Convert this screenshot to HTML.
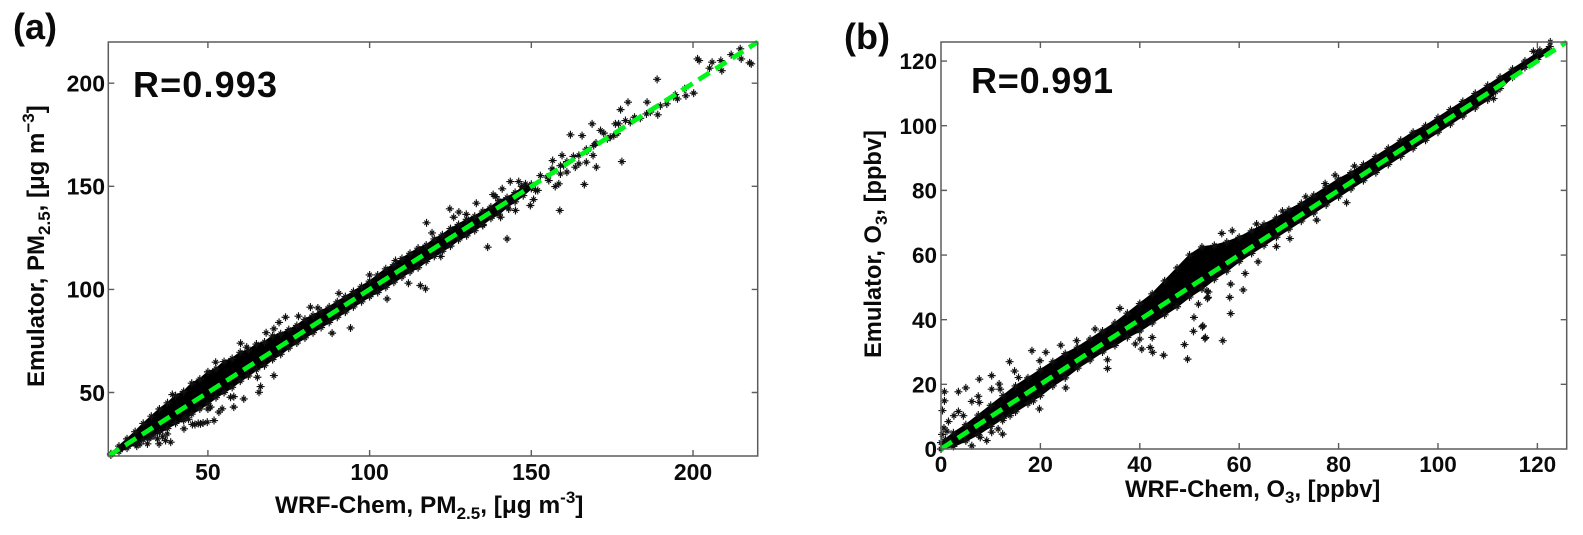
<!DOCTYPE html>
<html>
<head>
<meta charset="utf-8">
<title>Emulator vs WRF-Chem scatter plots</title>
<style>
html,body{margin:0;padding:0;background:#fff;width:1583px;height:535px;overflow:hidden}
svg{display:block}
text{font-family:"Liberation Sans",Arial,sans-serif;font-weight:bold;fill:#0a0a0a}
</style>
</head>
<body>
<svg id="fig" xmlns="http://www.w3.org/2000/svg" width="1583" height="535" viewBox="0 0 1583 535">
  <rect width="1583" height="535" fill="#fff"/>
  <g id="panelA"></g>
  <g id="panelB"></g>

  <text x="13" y="39" font-size="36">(a)</text>
  <text x="844" y="49" font-size="36">(b)</text>
  <text x="133" y="97" font-size="36" textLength="144" lengthAdjust="spacing">R=0.993</text>
  <text x="971" y="93" font-size="36" textLength="142" lengthAdjust="spacing">R=0.991</text>

  <text x="275" y="513" font-size="24.4">WRF-Chem, PM<tspan font-size="17" dy="6">2.5</tspan><tspan dy="-6">, [μg m</tspan><tspan font-size="17" dy="-10">-3</tspan><tspan dy="10">]</tspan></text>
  <text transform="translate(44,387) rotate(-90)" font-size="24">Emulator, PM<tspan font-size="17" dy="6">2.5</tspan><tspan dy="-6">, [μg m</tspan><tspan font-size="17" dy="-10">−3</tspan><tspan dy="10">]</tspan></text>
  <text x="1125" y="497" font-size="23.8">WRF-Chem, O<tspan font-size="17" dy="6">3</tspan><tspan dy="-6">, [ppbv]</tspan></text>
  <text transform="translate(881,358) rotate(-90)" font-size="23.7">Emulator, O<tspan font-size="17" dy="6">3</tspan><tspan dy="-6">, [ppbv]</tspan></text>
</svg>
<script>
// ---- Panel (a) PM2.5 data ----
const aTicks = [50, 100, 150, 200];
const aLimits = [19.2, 220];
const aFit = [19.2, 220];
const aBandX    = [20,22.5,25,27.5,30,32.5,35,37.5,40,42.5,45,47.5,50,52.5,55,57.5,60,62.5,65,67.5,70,72.5,75,77.5,80,82.5,85,87.5,90,92.5,95,97.5,100,102.5,105,107.5,110,112.5,115,117.5,120,122.5,125,127.5,130,132.5,135,137.5,140,142.5,145,147.5,150];
const aBandHigh = [20.3,24,27.5,31,35,38.5,42,45,48.5,50.5,54.5,56.5,60,61.5,65,66.5,69.5,70.5,73.5,74.5,77.5,78.5,80.5,82.5,85.5,87.5,89.5,91.5,94,96.5,99,101.5,104,107,110,112,115,117.5,120,121.5,124.5,126.5,129.5,131.5,134,135.5,138,140,143,144.5,147,149.5,151];
const aBandLow  = [19.7,21.3,23,25,27,29,30.5,32.5,35,36.5,39.5,42,44.5,47.5,50,52.5,55.5,58,61,63,66,68.5,71.5,74,76.5,79,81.5,84,86.5,89,91.5,94,96.5,98.5,101,103.5,106,108.5,110.5,113.5,116,118.5,121,124,126,128.5,131.5,134.5,136.5,140,142.5,145.5,149];
const aOutX = [201.4,201.9,205.9,208.6,208.9,205.1,211.8,214.6,214.9,217.5,218,188.9,200.2,197.8,195.2,194.5,197.4,191.9,189.1,185.6,185.8,179.9,177.6,181.9,179.1,176,177,168.8,162.1,165.7,171.4,172.4,174.4,175.5,178,170.1,166.4,158.8,158.5,157.4,167,164.7,163.6,169.1,167.2,164.7,169.3,159.5,156.6,156.4,160,161,159,155.4,152.8,143.5,146.1,148.2,151.3,150.7,149.7,145.1,141,138.2,133,124.8,127.6,126,129.9,140.5,142.5,136.5,117.6,119.3,115.7,117.3,154.9,157,159,161,163,167,170,173.5,176.5,180.6,183.7,186.8,189.9,194,31.3,34.4,37.4,38.5,34.9,36.9,31.8,42.6,45.2,47.7,49.8,51.9,53.4,50.8,58,61.1,65.8,66.3,70.4,65.3,57,58,54.4,52.4,60.1,74,81.7,90.5,70.4,88.4,94.1,105.4,39,28,29,33,36,46,47,48.5,43,44,50,62,68,72,78,84,100,108,112,122,135,139,143,147,152];
const aOutY = [211.8,211,210.2,211,206.1,207.3,213.9,216.7,211.8,209.9,209.4,201.9,195.2,193.9,192.4,194.5,197.3,190,184.7,185.1,190.8,190.8,187.2,183.5,181.9,180.3,180.3,180.3,175,174.6,177.1,175.8,173.8,174.6,162,159.3,150.9,138.3,151.2,149.9,161.7,160.9,159.3,165,167,165,169.8,165,162.5,158.5,160.1,156.9,156,152.8,155.2,152.3,152.3,151.2,148,143.6,140.7,138.3,148.8,146,141.8,139.1,137.5,135,136.4,135,124.5,120.5,132.3,127.4,101.9,100.3,154.5,157.5,160,162,164.5,168,171,173,175.5,181,183,186,189,193.5,25.1,27.5,29.9,25.9,25.1,26.7,27.5,32.4,34.5,34.8,35.6,36.4,40.5,42.9,42.9,46.9,50.1,52.9,58.2,57.4,47.7,48,42.1,64.7,73.9,86.5,91.4,98.1,80.9,78.8,81.3,95.4,49,24,25,29,28.5,34.5,35,35.2,38,37,42,72,79,84,87,91,107,114,103,116,131,145,139,150,148];

// ---- Panel (b) O3 data ----
const bXTicks = [0, 20, 40, 60, 80, 100, 120];
const bYTicks = [0, 20, 40, 60, 80, 100, 120];
const bLimits = [0, 125.9];
const bFit = [0, 125.9];
const bBandX    = [0,2.5,5,7.5,10,12.5,15,17.5,20,22.5,25,27.5,30,32.5,35,37.5,40,42.5,45,47.5,50,52.5,55,57.5,60,62.5,65,67.5,70,72.5,75,77.5,80,82.5,85,87.5,90,92.5,95,97.5,100,102.5,105,107.5,110,112.5,115,117.5,120,122.5];
const bBandHigh = [2,5,7.5,10.5,13.5,16.5,19.5,22,24.5,27,29.5,31.5,34,36.5,39,42,45,48,52,56,60,62.5,63,64,65.5,67.5,69.5,71.5,74,76,78.5,81,83.5,85.5,88,90.5,93,95.5,98,100,102.5,105,107.5,110,112.5,115,117.5,120,122.5,124.5];
const bBandLow  = [0,0.8,2.5,4.5,7,9.5,11.5,14,16.5,19.5,22,25,27.5,30,32,34.5,36.5,39,41.5,44,47,49.5,52.5,55,58,60.5,63,65.5,68,70.5,73,75.5,78,80.5,83,85.5,88,90.5,93,95.5,98,100.5,103,105.5,108,111.5,115,118,120.5,123];
const bOutX = [0.7,0.7,0.3,3.5,5,7.7,10.2,10.2,11.7,11.9,7.5,6.2,7.7,3.5,4.5,2.6,1.5,13.8,14.8,18.3,21.1,24.1,19.9,15.6,19.8,25.1,18.6,12.4,11.5,10.2,12.4,9.2,6.2,7.9,13.9,33.5,33.5,39.1,40.4,42.1,42.6,44.8,42.5,40,49,49.6,50.8,50.9,52.7,53.2,51.8,53.7,53.5,36,31,27.3,61.2,58.3,60.8,58.1,58.3,52.6,53.1,56.7,53.8,53.6,81.6,75.6,70.2,67.5,63.8,79.3,83.2,77.3,73.4,68.7,63.5,58.6,56.5,122.6,120.5,119.2,111.2,111.6,0.4,0.9,0.2,1.2,0.6,1.8];
const bOutY = [17.7,14.9,11.9,17.7,18.9,21.6,22.7,18.5,20.1,18.5,16.3,14.7,14.4,11.6,10.3,10.3,8.5,27,24.1,30.4,29.9,32.1,27.3,22.1,12.4,18.9,14.9,4.6,6.2,5.2,8.8,2.6,1,3.6,10.3,27.6,24.9,32.5,30.9,31.4,29.9,29,34.5,34,32.3,27.8,36.4,40.7,38.1,34.5,44.8,46.9,48.9,43.5,37.1,33.5,54.3,51,49.2,46.9,41.9,37.8,34.2,33.5,48.6,46.6,76.2,70.8,65.1,62.6,57.9,84.7,87.5,82.1,78,73.6,69.6,67.5,66.7,125.9,123.3,123,108.4,110.5,1.5,3,4.5,5.5,6.5,2.5];

const NS = 'http://www.w3.org/2000/svg';

function make(tag, attrs, parent) {
  const el = document.createElementNS(NS, tag);
  for (const k in attrs) el.setAttribute(k, attrs[k]);
  parent.appendChild(el);
  return el;
}

function linear(d0, v0, d1, v1) {
  return function (v) { return v0 + (v - d0) * (v1 - v0) / (d1 - d0); };
}

function starPath(px, py) {
  const a = 4, b = 2.2;
  return 'M' + (px - a) + ' ' + py + 'H' + (px + a) +
         'M' + px + ' ' + (py - a) + 'V' + (py + a) +
         'M' + (px - b) + ' ' + (py - b) + 'L' + (px + b) + ' ' + (py + b) +
         'M' + (px - b) + ' ' + (py + b) + 'L' + (px + b) + ' ' + (py - b);
}

function drawStar(parent, px, py) {
  const star = make('path', { d: starPath(px, py), fill: 'none', stroke: '#111', 'stroke-width': 1.15 }, parent);
  
  
}

function drawPanel(cfg) {
  const g = cfg.group;
  const sx = cfg.sx, sy = cfg.sy;

  // dense core of the point cloud
  const upper = cfg.bandX.map(function (x, i) { return sx(x) + ',' + sy(cfg.bandHigh[i]); });
  const lower = cfg.bandX.map(function (x, i) { return sx(x) + ',' + sy(cfg.bandLow[i]); }).reverse();
  const core = make('polygon', { points: upper.concat(lower).join(' '), fill: '#000', stroke: '#000', 'stroke-width': 1.5 }, g);
  
  

  cfg.bandX.forEach(function (x, i) {
    drawStar(g, sx(x), sy(cfg.bandHigh[i]));
    drawStar(g, sx(x), sy(cfg.bandLow[i]));
  });
  cfg.outX.forEach(function (x, i) {
    drawStar(g, sx(x), sy(cfg.outY[i]));
  });

  // 1:1 line
  const fit = make('line', {
    x1: sx(cfg.fit[0]), y1: sy(cfg.fit[0]), x2: sx(cfg.fit[1]), y2: sy(cfg.fit[1]),
    stroke: '#00f51a', 'stroke-width': 4.8, 'stroke-dasharray': '13 7'
  }, g);
  
  

  // frame
  const frame = make('rect', {
    x: cfg.left, y: cfg.top, width: cfg.right - cfg.left, height: cfg.bottom - cfg.top,
    fill: 'none', stroke: '#5c5c5c', 'stroke-width': 1.5
  }, g);
  
  

  // ticks and labels
  cfg.xTicks.forEach(function (t) {
    const px = sx(t);
    if (t !== cfg.xLim) {
      const tk = make('path', {
        d: 'M' + px + ' ' + cfg.bottom + 'v-6M' + px + ' ' + cfg.top + 'v6',
        stroke: '#5c5c5c', 'stroke-width': 1.4, fill: 'none'
      }, g);
      
      
    }
    const lb = make('text', { x: px, y: cfg.xLabelY, 'font-size': cfg.fontSize, 'text-anchor': 'middle' }, g);
    
    
    lb.textContent = String(t);
  });
  cfg.yTicks.forEach(function (t) {
    const py = sy(t);
    if (t !== cfg.yLim) {
      const tk = make('path', {
        d: 'M' + cfg.left + ' ' + py + 'h6M' + cfg.right + ' ' + py + 'h-6',
        stroke: '#5c5c5c', 'stroke-width': 1.4, fill: 'none'
      }, g);
      
      
    }
    const lb = make('text', { x: cfg.yLabelX, y: py + cfg.fontSize * 0.36, 'font-size': cfg.fontSize, 'text-anchor': 'end' }, g);
    
    
    lb.textContent = String(t);
  });
}

drawPanel({
  group: document.getElementById('panelA'),
  left: 108.3, right: 757.7, top: 42, bottom: 456,
  sx: linear(aLimits[0], 108.3, aLimits[1], 757.7),
  sy: linear(aLimits[0], 456, aLimits[1], 42),
  bandX: aBandX, bandHigh: aBandHigh, bandLow: aBandLow,
  outX: aOutX, outY: aOutY, fit: aFit,
  xTicks: aTicks, yTicks: aTicks, xLim: null, yLim: null,
  xLabelY: 480, yLabelX: 105, fontSize: 23
});

drawPanel({
  group: document.getElementById('panelB'),
  left: 941, right: 1566.7, top: 42, bottom: 449,
  sx: linear(bLimits[0], 941, bLimits[1], 1566.7),
  sy: linear(bLimits[0], 449, bLimits[1], 42),
  bandX: bBandX, bandHigh: bBandHigh, bandLow: bBandLow,
  outX: bOutX, outY: bOutY, fit: bFit,
  xTicks: bXTicks, yTicks: bYTicks, xLim: 0, yLim: 0,
  xLabelY: 472, yLabelX: 937, fontSize: 22.5
});
</script>
</body>
</html>
